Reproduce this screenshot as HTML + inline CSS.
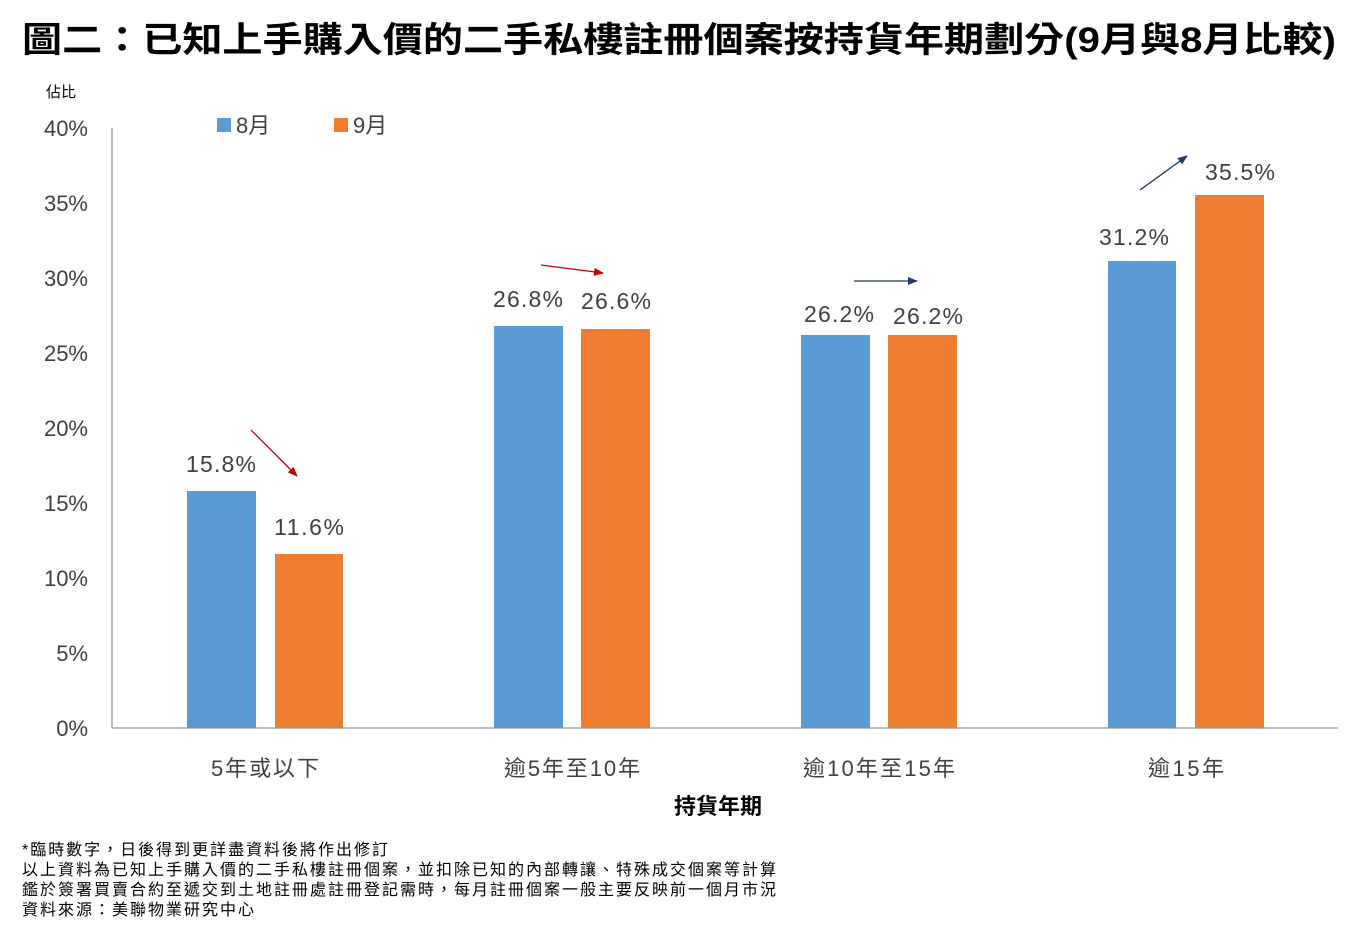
<!DOCTYPE html>
<html><head><meta charset="utf-8"><style>
body{margin:0;background:#fff;width:1367px;height:937px;overflow:hidden}
svg{display:block}
text{font-family:"Liberation Sans","Noto Sans CJK TC",sans-serif}
</style></head><body>
<svg width="1367" height="937" viewBox="0 0 1367 937" xmlns="http://www.w3.org/2000/svg">
<defs>
<marker id="ar" markerWidth="10" markerHeight="8" refX="9" refY="4" orient="auto" markerUnits="userSpaceOnUse"><path d="M0,0 L10,4 L0,8 z" fill="#C00000"/></marker>
<marker id="an" markerWidth="10" markerHeight="8" refX="9" refY="4" orient="auto" markerUnits="userSpaceOnUse"><path d="M0,0 L10,4 L0,8 z" fill="#1F3864"/></marker>
</defs>
<text x="22" y="52" font-size="35" font-weight="bold" fill="#000" textLength="1314" lengthAdjust="spacingAndGlyphs">圖二：已知上手購入價的二手私樓註冊個案按持貨年期劃分(9月與8月比較)</text>
<text x="46" y="97" font-size="15" fill="#000">佔比</text>
<g font-size="22" fill="#404040" text-anchor="end">
<text x="88" y="136">40%</text><text x="88" y="211">35%</text><text x="88" y="286">30%</text>
<text x="88" y="361">25%</text><text x="88" y="436">20%</text><text x="88" y="511">15%</text>
<text x="88" y="586">10%</text><text x="88" y="661">5%</text><text x="88" y="736">0%</text>
</g>
<line x1="112" y1="128" x2="112" y2="728" stroke="#A6A6A6" stroke-width="1.5"/>
<line x1="112" y1="728" x2="1338" y2="728" stroke="#A6A6A6" stroke-width="1.5"/>
<rect x="217" y="118" width="14" height="14" fill="#5B9BD5"/><text x="236" y="133" font-size="22" fill="#404040">8月</text>
<rect x="334" y="118" width="14" height="14" fill="#ED7D31"/><text x="353" y="133" font-size="22" fill="#404040">9月</text>
<g fill="#5B9BD5">
<rect x="187" y="491" width="69" height="237"/><rect x="494" y="326" width="69" height="402"/>
<rect x="801" y="335" width="69" height="393"/><rect x="1108" y="261" width="68" height="467"/>
</g>
<g fill="#ED7D31">
<rect x="275" y="554" width="68" height="174"/><rect x="581" y="329" width="69" height="399"/>
<rect x="888" y="335" width="69" height="393"/><rect x="1195" y="195" width="69" height="533"/>
</g>
<g font-size="23" fill="#404040" text-anchor="middle">
<text x="221" y="472" textLength="70">15.8%</text><text x="309" y="535" textLength="70">11.6%</text>
<text x="528" y="307" textLength="70">26.8%</text><text x="616" y="309" textLength="70">26.6%</text>
<text x="839" y="322" textLength="70">26.2%</text><text x="928" y="324" textLength="70">26.2%</text>
<text x="1134" y="245" textLength="70">31.2%</text><text x="1240" y="180" textLength="70">35.5%</text>
</g>
<line x1="251" y1="430" x2="297" y2="476" stroke="#C00000" stroke-width="1.3" marker-end="url(#ar)"/>
<line x1="541" y1="265" x2="603" y2="273" stroke="#C00000" stroke-width="1.3" marker-end="url(#ar)"/>
<line x1="854" y1="281" x2="917" y2="281" stroke="#1F3864" stroke-width="1.3" marker-end="url(#an)"/>
<line x1="1140" y1="190" x2="1187" y2="156" stroke="#1F3864" stroke-width="1.3" marker-end="url(#an)"/>
<g font-size="22" fill="#404040" text-anchor="middle">
<text x="265" y="776" textLength="108">5年或以下</text><text x="572" y="776" textLength="136">逾5年至10年</text>
<text x="879" y="776" textLength="152">逾10年至15年</text><text x="1186" y="776" textLength="76">逾15年</text>
</g>
<text x="718" y="814" font-size="22" font-weight="bold" fill="#000" text-anchor="middle">持貨年期</text>
<g font-size="16" fill="#000">
<text x="22" y="855" textLength="366">*臨時數字，日後得到更詳盡資料後將作出修訂</text>
<text x="22" y="875" textLength="754">以上資料為已知上手購入價的二手私樓註冊個案，並扣除已知的內部轉讓、特殊成交個案等計算</text>
<text x="22" y="895" textLength="754">鑑於簽署買賣合約至遞交到土地註冊處註冊登記需時，每月註冊個案一般主要反映前一個月市況</text>
<text x="22" y="915" textLength="232">資料來源：美聯物業研究中心</text>
</g>
</svg>
</body></html>
